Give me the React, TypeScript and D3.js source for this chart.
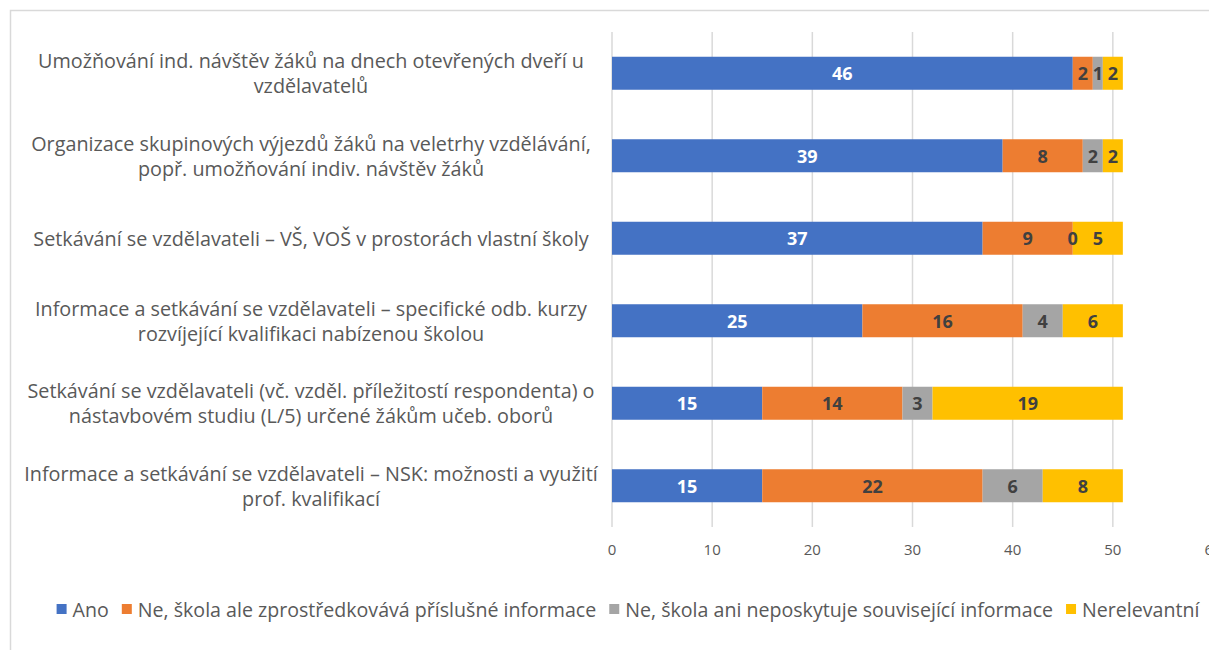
import React, { useEffect, useRef } from 'react';
import * as d3 from 'd3';

// category labels, already split in lines like in the source chart
const categories: string[][] = [
    ['Umožňování ind. návštěv žáků na dnech otevřených dveří u', 'vzdělavatelů'],
    ['Organizace skupinových výjezdů žáků na veletrhy vzdělávání,', 'popř. umožňování indiv. návštěv žáků'],
    ['Setkávání se vzdělavateli – VŠ, VOŠ v prostorách vlastní školy'],
    ['Informace a setkávání se vzdělavateli – specifické odb. kurzy', 'rozvíjející kvalifikaci nabízenou školou'],
    ['Setkávání se vzdělavateli (vč. vzděl. příležitostí respondenta) o', 'nástavbovém studiu (L/5) určené žákům učeb. oborů'],
    ['Informace a setkávání se vzdělavateli – NSK: možnosti a využití', 'prof. kvalifikací'],
];

const seriesNames = [
    'Ano',
    'Ne, škola ale zprostředkovává příslušné informace',
    'Ne, škola ani neposkytuje související informace',
    'Nerelevantní',
];

const ano = [46, 39, 37, 25, 15, 15];
const neZprostredkovava = [2, 8, 9, 16, 14, 22];
const neNeposkytuje = [1, 2, 0, 4, 3, 6];
const nerelevantni = [2, 2, 5, 6, 19, 8];

const xTicks = [0, 10, 20, 30, 40, 50, 60];

const colors = ['#4472C4', '#ED7D31', '#A5A5A5', '#FFC000'];
const labelColors = ['#ffffff', '#404040', '#404040', '#404040'];

const FONT = '"Open Sans", Lato, sans-serif';

export default function App() {
    const svgRef = useRef<SVGSVGElement>(null);
    const width = 1209;
    const height = 650;

    useEffect(() => {
        const svg = d3.select(svgRef.current);
        svg.selectAll('*').remove();

        const keys = categories.map((_, i) => String(i));
        const rows = keys.map((k, i) => ({
            key: k,
            s0: ano[i],
            s1: neZprostredkovava[i],
            s2: neNeposkytuje[i],
            s3: nerelevantni[i],
        }));
        const stack = d3.stack<any>().keys(['s0', 's1', 's2', 's3']);
        const stacked = stack(rows);

        const x = d3.scaleLinear().domain([0, 60]).range([612, 1213]);
        const y = d3.scaleBand<string>()
            .domain(keys)
            .range([32, 527])
            .paddingInner(0.6)
            .paddingOuter(0.3);

        // outer chart border
        svg.append('rect')
            .attr('x', 10.5).attr('y', 10.5)
            .attr('width', 1240).attr('height', 700)
            .attr('fill', 'none')
            .attr('stroke', '#d9d9d9')
            .attr('stroke-width', 1.5);

        // gridlines
        svg.append('g')
            .selectAll('line')
            .data(xTicks)
            .join('line')
            .attr('x1', d => x(d)).attr('x2', d => x(d))
            .attr('y1', 32).attr('y2', 527)
            .attr('stroke', '#d9d9d9')
            .attr('stroke-width', 1.5);

        // tick labels
        svg.append('g')
            .selectAll('text')
            .data(xTicks)
            .join('text')
            .attr('x', d => x(d))
            .attr('y', 549)
            .attr('text-anchor', 'middle')
            .attr('dominant-baseline', 'central')
            .attr('font-family', FONT)
            .attr('font-size', 15)
            .attr('fill', '#595959')
            .text(d => String(d));

        // bars
        const layers = svg.append('g')
            .selectAll('g')
            .data(stacked)
            .join('g')
            .attr('fill', (_, i) => colors[i]);
        layers.selectAll('rect')
            .data(d => d)
            .join('rect')
            .attr('x', d => x(d[0]))
            .attr('width', d => x(d[1]) - x(d[0]))
            .attr('y', d => y((d.data as any).key)!)
            .attr('height', y.bandwidth());

        // data labels
        stacked.forEach((layer, si) => {
            svg.append('g')
                .selectAll('text')
                .data(layer)
                .join('text')
                .attr('x', d => x((d[0] + d[1]) / 2))
                .attr('y', d => y((d.data as any).key)! + y.bandwidth() / 2)
                .attr('text-anchor', 'middle')
                .attr('dominant-baseline', 'central')
                .attr('font-family', FONT)
                .attr('font-weight', 'bold')
                .attr('font-size', 18)
                .attr('fill', labelColors[si])
                .text(d => String(d[1] - d[0]));
        });

        // category labels
        const lineH = 25;
        categories.forEach((lines, i) => {
            const cy = y(keys[i])! + y.bandwidth() / 2;
            const t = svg.append('text')
                .attr('text-anchor', 'middle')
                .attr('font-family', FONT)
                .attr('font-size', 19.8)
                .attr('fill', '#595959');
            lines.forEach((ln, j) => {
                t.append('tspan')
                    .attr('x', 311)
                    .attr('y', cy + (j - (lines.length - 1) / 2) * lineH)
                    .attr('dominant-baseline', 'central')
                    .text(ln);
            });
        });

        // legend, laid out by measured text
        const legend = svg.append('g');
        const items = seriesNames.map((name, i) => {
            const g = legend.append('g');
            g.append('rect')
                .attr('width', 10).attr('height', 10)
                .attr('y', -5)
                .attr('fill', colors[i]);
            const txt = g.append('text')
                .attr('x', 16)
                .attr('dominant-baseline', 'central')
                .attr('font-family', FONT)
                .attr('font-size', 19.6)
                .attr('fill', '#595959')
                .text(name);
            const w = 16 + (txt.node() as SVGTextElement).getComputedTextLength();
            return { g, w };
        });
        const gap = 13;
        const total = d3.sum(items, d => d.w) + gap * (items.length - 1);
        let cx = 628 - total / 2;
        items.forEach(it => {
            it.g.attr('transform', `translate(${cx},609)`);
            cx += it.w + gap;
        });
    }, []);

    return (
        <svg
            ref={svgRef}
            width={width}
            height={height}
            style={{ position: 'absolute', left: 0, top: 0, background: '#fff' }}
        />
    );
}
